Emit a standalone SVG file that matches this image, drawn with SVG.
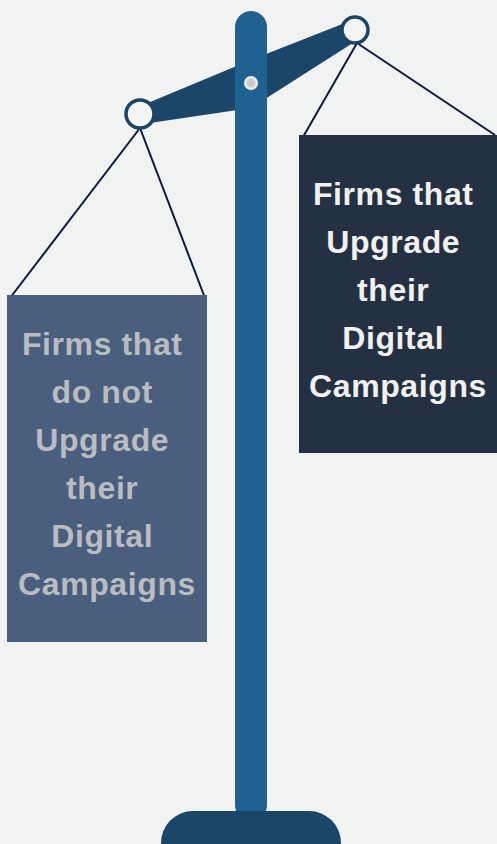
<svg xmlns="http://www.w3.org/2000/svg" width="497" height="844" viewBox="0 0 497 844">
<style>
.str{stroke:#0e1a3c;stroke-width:2;fill:none}
.ring{fill:#f3f4f4;stroke:#1a4466;stroke-width:3.5}
.lbl{font-family:"Liberation Sans",Arial,sans-serif;font-weight:bold;font-size:32px;letter-spacing:0.6px;text-anchor:middle}
</style>
<rect width="497" height="844" fill="#f1f2f2"/>
<g id="beam">
<polygon points="143,105 251,60 350,21 356,41 251,108 143,124" fill="#1a4769"/>
</g>
<g id="pole">
<rect x="235" y="11" width="32" height="810" rx="16" fill="#1f6190"/>
<circle cx="251" cy="83" r="7" fill="#eeeeee"/>
<circle cx="251" cy="83" r="4.5" fill="#cccccc"/>
</g>
<g id="base">
<rect x="161" y="811" width="180" height="80" rx="32" fill="#1a4769"/>
</g>
<g id="connectors">
<line class="str" x1="140" y1="128" x2="10" y2="298"/>
<line class="str" x1="140" y1="128" x2="205" y2="298"/>
<line class="str" x1="357" y1="43" x2="303" y2="137"/>
<line class="str" x1="357" y1="43" x2="495" y2="135"/>
</g>
<g id="ring-left"><circle class="ring" cx="140" cy="114" r="14"/></g>
<g id="ring-right"><circle class="ring" cx="355" cy="30" r="13"/></g>
<g id="box-left">
<rect x="7" y="295" width="200" height="347" fill="#4a5f7e"/>
<text class="lbl" fill="#b9bcc1">
<tspan x="107" y="355">Firms that</tspan>
<tspan x="107" y="403">do not</tspan>
<tspan x="107" y="451">Upgrade</tspan>
<tspan x="107" y="499">their</tspan>
<tspan x="107" y="547">Digital</tspan>
<tspan x="107" y="595">Campaigns</tspan>
</text>
</g>
<g id="box-right">
<rect x="299" y="135" width="198" height="318" fill="#243142"/>
<text class="lbl" fill="#f1f1f1">
<tspan x="398" y="205">Firms that</tspan>
<tspan x="398" y="253">Upgrade</tspan>
<tspan x="398" y="301">their</tspan>
<tspan x="398" y="349">Digital</tspan>
<tspan x="398" y="397">Campaigns</tspan>
</text>
</g>
</svg>
